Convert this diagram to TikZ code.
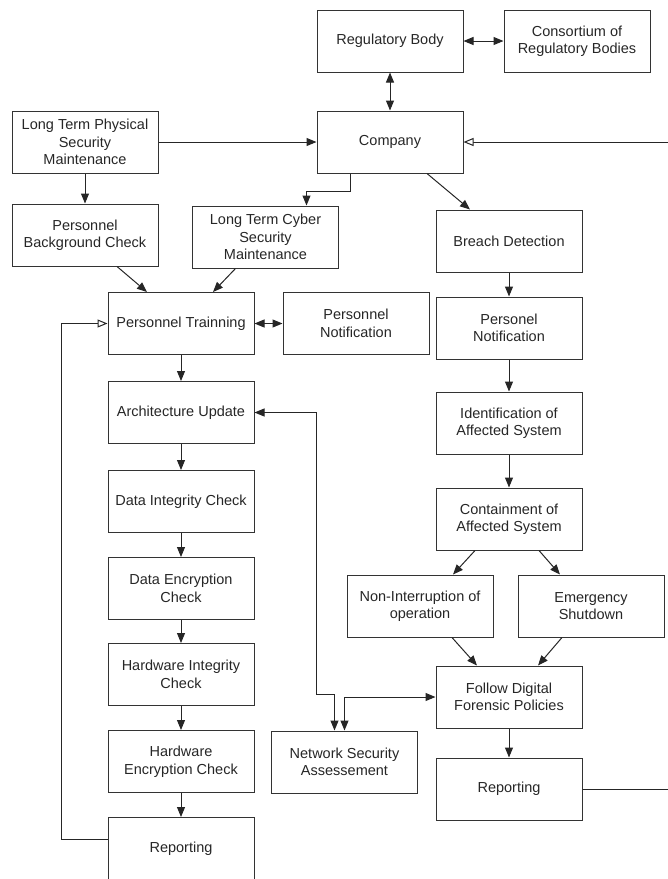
\documentclass[tikz,border=0pt]{standalone}
\usepackage{fontspec}
\setmainfont{Liberation Sans}
\usetikzlibrary{arrows.meta,positioning}

\begin{document}
\begin{tikzpicture}[x=1pt,y=-1pt,node distance=24pt and 28pt,box/.style={draw=black!80,line width=1pt,align=center,minimum width=146pt,minimum height=62pt,inner sep=2pt,text=black!85,font=\fontsize{14.5}{17.5}\selectfont},arr/.style={draw=black!85,line width=1pt,-{Triangle[length=10pt,width=8pt]}},both/.style={arr,{Triangle[length=10pt,width=8pt]}-{Triangle[length=10pt,width=8pt]}},back/.style={draw=black!85,line width=1pt,-{Triangle[open,length=10pt,width=8pt,fill=white]}}]
\useasboundingbox (0,0) rectangle (668,879);
\node[box] (reg) at (390,41) {Regulatory Body};
\node[box,right=40pt of reg] (cons) {Consortium of\\Regulatory Bodies};
\node[box,below=38pt of reg] (comp) {Company};
\node[box,left=158pt of comp] (ltps) {Long Term Physical\\Security\\Maintenance};
\node[box,below=30pt of ltps] (pbc) {Personnel\\Background Check};
\node[box] (ltcs) at (265.5,237) {Long Term Cyber\\Security\\Maintenance};
\node[box] (train) at (181,323.5) {Personnel Trainning};
\node[box,right=of train] (pnotl) {Personnel\\Notification};
\node[box,below=26pt of train] (arch) {Architecture Update};
\node[box,below=26pt of arch] (dint) {Data Integrity Check};
\node[box,below=of dint] (denc) {Data Encryption\\Check};
\node[box,below=23pt of denc] (hint) {Hardware Integrity\\Check};
\node[box,below=of hint] (henc) {Hardware\\Encryption Check};
\node[box,below=of henc] (repl) {Reporting};
\node[box] (breach) at (509,241) {Breach Detection};
\node[box,below=of breach] (pnotr) {Personel\\Notification};
\node[box,below=32pt of pnotr] (ident) {Identification of\\Affected System};
\node[box,below=33pt of ident] (contain) {Containment of\\Affected System};
\node[box] (nonint) at (420,606) {Non-Interruption of\\operation};
\node[box] (shut) at (591,606) {Emergency\\Shutdown};
\node[box] (forensic) at (509,697) {Follow Digital\\Forensic Policies};
\node[box,below=29pt of forensic] (repr) {Reporting};
\node[box] (netsec) at (344.5,762) {Network Security\\Assessement};
\draw[both](reg)--(cons);\draw[both](reg)--(comp);
\draw[arr](ltps.east)--(ltps.east-|comp.west);\draw[arr](ltps)--(pbc);
\draw[arr]([xshift=-40pt]comp.south)--++(0,18)-|([xshift=41pt]ltcs.north);
\draw[arr]([xshift=37pt]comp.south)--([xshift=-39pt]breach.north);
\draw[arr]([xshift=32pt]pbc.south)--([xshift=-34pt]train.north);
\draw[arr]([xshift=-30pt]ltcs.south)--([xshift=32pt]train.north);
\draw[both](train)--(pnotl);
\draw[arr](train)--(arch);\draw[arr](arch)--(dint);\draw[arr](dint)--(denc);
\draw[arr](denc)--(hint);\draw[arr](hint)--(henc);\draw[arr](henc)--(repl);
\draw[back]([yshift=9pt]repl.west)--++(-46,0)|-(train.west);
\draw[both](arch.east)--++(62,0)--++(0,281.5)-|([xshift=-10pt]netsec.north);
\draw[both](forensic.west)-|(netsec.north);
\draw[arr](breach)--(pnotr);\draw[arr](pnotr)--(ident);\draw[arr](ident)--(contain);
\draw[arr]([xshift=-34pt]contain.south)--([xshift=33pt]nonint.north);
\draw[arr]([xshift=30pt]contain.south)--([xshift=-31pt]shut.north);
\draw[arr]([xshift=32pt]nonint.south)--([xshift=-32pt]forensic.north);
\draw[arr]([xshift=-29pt]shut.south)--([xshift=29pt]forensic.north);
\draw[arr](forensic)--(repr);
\draw[back](repr.east)--++(86,0)|-(comp.east);
\end{tikzpicture}
\end{document}
